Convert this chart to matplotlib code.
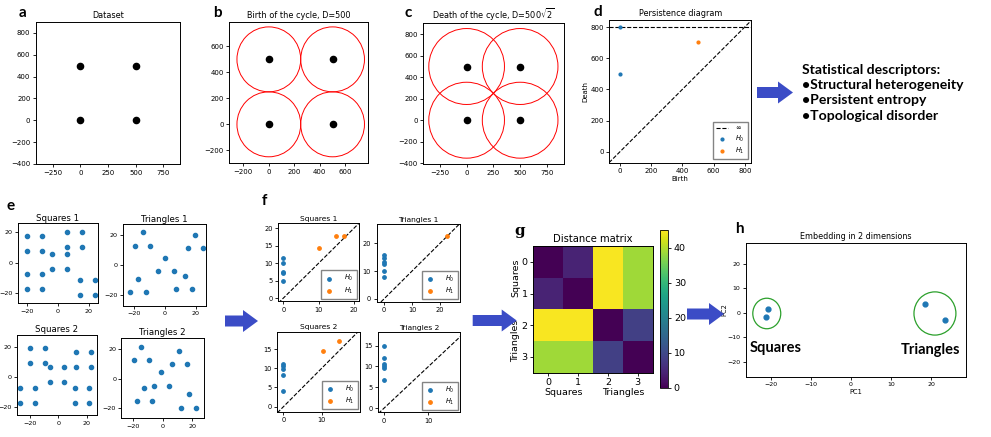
import numpy as np
import matplotlib
matplotlib.use("Agg")
import matplotlib.pyplot as plt
from matplotlib.patches import Circle, Ellipse, FancyArrow

W, H = 991, 437

# --- a-c: four-point toy dataset
pts_x = [0, 0, 500, 500]
pts_y = [0, 500, 0, 500]
r_birth = 250
r_death = 353.6

# --- d: persistence diagram of the toy dataset (inf drawn at 800)
inf_level = 800
d_h0_birth = [0, 0]
d_h0_death = [500, 800]
d_h1_birth = [500]
d_h1_death = [707]

# --- e: point clouds
sq1_x = [-20, -10, -20, -10, -3.8, 5.7, 5.7, 5.7, 15.6, 15.6, -20, -10, -3.8, 5.7, -20, -10, 14.5, 24, 14.5, 24]
sq1_y = [17.2, 17.2, 7.6, 7.6, 5.4, 20.2, 10.4, 5.4, 20.2, 10.4, -7.4, -7.4, -4.3, -4.3, -17.2, -17.2, -11.3, -11.3, -21, -21]
tri1_x = [-19.8, -14.4, -9.6, -17.8, -22.9, -12.7, 0.2, -4.4, 5.6, 12.7, 7.3, 17.8, 19.6, 14.7, 24.7]
tri1_y = [12.7, 21.5, 12.7, -9.2, -18, -18, 4.8, -4, -4, -7, -15.8, -15.8, 19.8, 11, 11]
sq2_x = [-27.3, -27.3, -16.8, -16.8, -19.8, -9.5, -19.8, -9.5, -6.1, 4.1, -6.1, 4.1, 12.5, 22.7, 12.5, 22.7, 11.4, 21.8, 11.4, 21.8]
sq2_y = [-7.8, -17.8, -7.8, -17.8, 19.3, 19.3, 9.3, 9.3, 6.2, 6.2, -3.8, -3.8, 16.2, 16.2, 6.2, 6.2, -7.8, -7.8, -17.8, -17.8]
tri2_x = [-19.3, -14.4, -9.2, -12.4, -17.5, -7.2, -0.9, -6.1, 4.3, 6.3, 11.2, 16.4, 17.5, 12.4, 22.5]
tri2_y = [12.9, 21.3, 12.9, -6.4, -15.3, -15.3, 4.4, -4.9, -4.9, 10.2, 18.9, 10.2, -10.4, -19.6, -19.6]

# --- f: persistence diagrams (H0 births are all 0)
f_sq1_h0 = [11.4, 10.0, 7.6, 7.1, 5.0]
f_sq1_h1_b = [10.0, 14.8, 17.3]
f_sq1_h1_d = [14.3, 17.9, 17.9]
f_tri1_h0 = [15.6, 14.6, 13.4, 12.6, 10.0, 7.7]
f_tri1_h1_b = [22.3]
f_tri1_h1_d = [22.6]
f_sq2_h0 = [11.1, 10.5, 9.9, 8.2, 4.2]
f_sq2_h1_b = [10.3, 14.6]
f_sq2_h1_d = [14.5, 17.1]
f_tri2_h0 = [15.0, 12.0, 10.6, 10.0, 9.6, 6.8]
f_tri2_h1_b = []
f_tri2_h1_d = []

# --- g: distance matrix
dist = [[0, 4.5, 44.5, 38.5],
        [4.5, 0, 44.5, 38.5],
        [44.5, 44.5, 0, 8.5],
        [38.5, 38.5, 8.5, 0]]
dist_ticks = ["0", "1", "2", "3"]

# --- h: 2D embedding
emb_x = [-20.9, -21.3, 18.6, 23.6]
emb_y = [1.5, -1.9, 3.5, -3.1]

descriptors = ["Statistical descriptors:", "\u2022Structural heterogeneity",
               "\u2022Persistent entropy", "\u2022Topological disorder"]

BLUE = "#1f77b4"
ORANGE = "#ff7f0e"
ARROW = "#3b4cc6"

fig = plt.figure(figsize=(W / 100, H / 100), dpi=100)


def px_axes(l, t, r, b):
    return fig.add_axes([l / W, 1 - b / H, (r - l) / W, (b - t) / H])


def style(ax, size=5):
    ax.tick_params(labelsize=size, length=2.5, width=0.6, pad=1.5)
    for s in ax.spines.values():
        s.set_linewidth(0.7)


# ---------------- top row
ax = px_axes(36, 22, 180, 164)
ax.scatter(pts_x, pts_y, s=20, color="black")
ax.set_xlim(-400, 900); ax.set_ylim(-400, 900)
ax.set_xticks([-250, 0, 250, 500, 750]); ax.set_yticks(range(-400, 801, 200))
ax.set_title("Dataset", fontsize=5.9, pad=3)
style(ax)

for (l, t, r, b), rad, lim, ticks, title in [
        ((229.3, 21.7, 368.3, 163.3), r_birth, ((-310, 780), (-300, 790)), [-200, 0, 200, 400, 600],
         "Birth of the cycle, D=500"),
        ((423.3, 22.7, 564, 164), r_death, ((-405, 910), (-408, 908)), [-250, 0, 250, 500, 750],
         "Death of the cycle, D=500$\\sqrt{2}$")]:
    ax = px_axes(l, t, r, b)
    for x, y in zip(pts_x, pts_y):
        ax.add_patch(Circle((x, y), rad, fill=False, ec="red", lw=0.7))
    ax.scatter(pts_x, pts_y, s=20, color="black", zorder=3)
    ax.set_xlim(*lim[0]); ax.set_ylim(*lim[1])
    ax.set_xticks(ticks)
    if rad == r_birth:
        ax.set_yticks([-200, 0, 200, 400, 600])
    else:
        ax.set_yticks(range(-400, 801, 200))
    ax.set_title(title, fontsize=5.9, pad=3)
    style(ax)

ax = px_axes(609.3, 20, 751, 162.7)
ax.plot([-70, 845], [-70, 845], "k--", lw=0.8)
ax.axhline(inf_level, color="k", ls="--", lw=0.8, label="$\\infty$")
ax.scatter(d_h0_birth, d_h0_death, s=4, color=BLUE, label="$H_0$", zorder=3)
ax.scatter(d_h1_birth, d_h1_death, s=4, color=ORANGE, label="$H_1$", zorder=3)
ax.set_xlim(-68, 840); ax.set_ylim(-70, 845)
ax.set_xticks([0, 200, 400, 600, 800]); ax.set_yticks([0, 200, 400, 600, 800])
ax.set_title("Persistence diagram", fontsize=5.9, pad=3)
ax.set_xlabel("Birth", fontsize=5, labelpad=1)
ax.set_ylabel("Death", fontsize=5, labelpad=1)
ax.legend(loc="lower right", fontsize=4.8, handlelength=1.8, borderpad=0.5, labelspacing=0.35,
          handletextpad=1.0, fancybox=False, edgecolor="0.4")
style(ax)

# ---------------- e: point clouds
for (l, t, r, b), xs, ys, title, lims in [
        ((17.5, 223.3, 98.3, 303.3), sq1_x, sq1_y, "Squares 1", ((-26, 26), (-26.5, 25.6))),
        ((122.7, 224.3, 206, 305.7), tri1_x, tri1_y, "Triangles 1", ((-27.6, 26.7), (-26.8, 26.8))),
        ((16.5, 335, 97.3, 415), sq2_x, sq2_y, "Squares 2", ((-29.5, 27.3), (-25.6, 27.8))),
        ((121, 337.7, 204, 418), tri2_x, tri2_y, "Triangles 2", ((-28, 27.9), (-26.5, 27.8)))]:
    ax = px_axes(l, t, r, b)
    ax.scatter(xs, ys, s=9, color=BLUE)
    ax.set_xlim(*lims[0]); ax.set_ylim(*lims[1])
    ax.set_xticks([-20, 0, 20]); ax.set_yticks([-20, 0, 20])
    ax.set_title(title, fontsize=6.2, pad=2)
    style(ax, 4.6)
    ax.tick_params(axis="y", pad=1)

# ---------------- f: persistence diagrams
for (l, t, r, b), h0, h1b, h1d, title, lims, xt, yt in [
        ((278.3, 223.3, 359.3, 301), f_sq1_h0, f_sq1_h1_b, f_sq1_h1_d, "Squares 1",
         ((-1.4, 21.5), (-0.8, 21.4)), [0, 10, 20], [0, 5, 10, 15, 20]),
        ((376.7, 224.3, 460, 301.7), f_tri1_h0, f_tri1_h1_b, f_tri1_h1_d, "Triangles 1",
         ((-2.6, 27.1), (-1, 26.8)), [0, 10, 20], [0, 10, 20]),
        ((277.3, 331.7, 360, 411.7), f_sq2_h0, f_sq2_h1_b, f_sq2_h1_d, "Squares 2",
         ((-1.6, 20), (-1.3, 19.5)), [0, 10], [0, 5, 10, 15]),
        ((378.3, 332.3, 460, 412.3), f_tri2_h0, f_tri2_h1_b, f_tri2_h1_d, "Triangles 2",
         ((-1.3, 17.1), (-1, 18.2)), [0, 10], [0, 5, 10, 15])]:
    ax = px_axes(l, t, r, b)
    lo = min(lims[0][0], lims[1][0]); hi = max(lims[0][1], lims[1][1])
    ax.plot([lo, hi], [lo, hi], "k--", lw=0.8)
    ax.scatter([0] * len(h0), h0, s=6, color=BLUE, label="$H_0$", zorder=3)
    ax.scatter(h1b, h1d, s=6, color=ORANGE, label="$H_1$", zorder=3)
    ax.set_xlim(*lims[0]); ax.set_ylim(*lims[1])
    ax.set_xticks(xt); ax.set_yticks(yt)
    ax.set_title(title, fontsize=5.4, pad=2)
    ax.legend(loc="lower right", fontsize=4.8, handlelength=1.4, borderpad=0.45, labelspacing=0.3,
              fancybox=False, edgecolor="0.4", handletextpad=1.6, borderaxespad=0.35)
    style(ax, 4.8)

# ---------------- g: distance matrix
ax = px_axes(533.3, 246, 652.7, 372.7)
im = ax.imshow(dist, cmap="viridis", vmin=0, vmax=45, aspect="auto")
ax.set_xticks(range(4)); ax.set_xticklabels(dist_ticks)
ax.set_yticks(range(4)); ax.set_yticklabels(dist_ticks)
ax.set_title("Distance matrix", fontsize=7.2, pad=3)
style(ax, 6.8)
ax.annotate("Squares", xy=(0.5, 0), xycoords=ax.get_xaxis_transform(), xytext=(0, -14.5),
            textcoords="offset points", ha="center", va="center", fontsize=6.8)
ax.annotate("Triangles", xy=(2.5, 0), xycoords=ax.get_xaxis_transform(), xytext=(0, -14.5),
            textcoords="offset points", ha="center", va="center", fontsize=6.8)
ax.annotate("Squares", xy=(0, 0.5), xycoords=ax.get_yaxis_transform(), xytext=(-12.5, 0),
            textcoords="offset points", ha="center", va="center", fontsize=6.8, rotation=90)
ax.annotate("Triangles", xy=(0, 2.5), xycoords=ax.get_yaxis_transform(), xytext=(-12.5, 0),
            textcoords="offset points", ha="center", va="center", fontsize=6.8, rotation=90)
cax = px_axes(660, 230, 668.3, 387.7)
cb = fig.colorbar(im, cax=cax, ticks=[0, 10, 20, 30, 40])
cb.ax.tick_params(labelsize=6.8, length=2.5, width=0.6, pad=1.5)
cb.outline.set_linewidth(0.6)

# ---------------- h: embedding
ax = px_axes(746, 242.7, 965.7, 376.7)
ax.scatter(emb_x, emb_y, s=12, color=BLUE, zorder=3)
ax.add_patch(Ellipse((-21.1, -0.3), 7, 12.5, fill=False, ec="#2ca02c", lw=0.9))
ax.add_patch(Ellipse((21, -0.3), 10.5, 17.7, fill=False, ec="#2ca02c", lw=0.9))
ax.text(-25.3, -14.3, "Squares", family="Lato", weight="bold", fontsize=10.5, ha="left", va="center")
ax.text(12.5, -15.3, "Triangles", family="Lato", weight="bold", fontsize=10.5, ha="left", va="center")
ax.set_xlim(-26.3, 28.7); ax.set_ylim(-26.2, 28.7)
ax.set_xticks([-20, -10, 0, 10, 20]); ax.set_yticks([-20, -10, 0, 10, 20])
ax.set_title("Embedding in 2 dimensions", fontsize=5.8, pad=3)
ax.set_xlabel("PC1", fontsize=4.8, labelpad=1)
ax.set_ylabel("PC2", fontsize=4.8, labelpad=0)
style(ax, 4.5)

# ---------------- overlay: arrows, panel letters, descriptor text
ov = fig.add_axes([0, 0, 1, 1])
ov.set_xlim(0, W); ov.set_ylim(H, 0); ov.axis("off")
for x0, x1, yc in [(757, 793, 92.5), (225, 258, 321), (472.7, 516.7, 320.5), (687, 724, 314)]:
    ov.add_patch(FancyArrow(x0, yc, x1 - x0, 0, width=11, head_width=22, head_length=15,
                            length_includes_head=True, color=ARROW, lw=0))

for lab, x, y in [("a", 22.7, 13.3), ("b", 217.3, 12.7), ("c", 408, 12.7), ("d", 597.7, 11.7),
                  ("e", 11, 206), ("f", 264, 201), ("h", 739, 229.3)]:
    ov.text(x, y, lab, family="Lato", weight="bold", fontsize=11, ha="center", va="center")
ov.text(519.3, 231, "g", family="DejaVu Serif", weight="bold", fontsize=11, ha="center", va="center")

for i, line in enumerate(descriptors):
    ov.text(802.3, 70 + 15.2 * i, line, family="Lato", weight="bold", fontsize=10.1,
            ha="left", va="center")

fig.savefig("out.png", dpi=100)
